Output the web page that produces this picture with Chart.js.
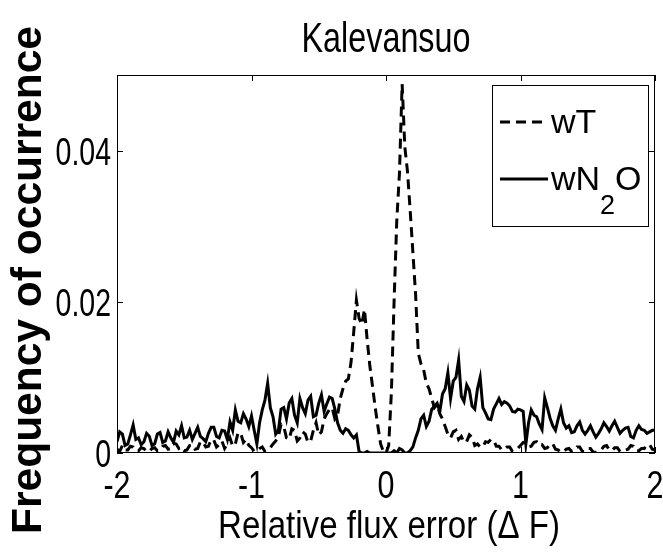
<!DOCTYPE html>
<html>
<head>
<meta charset="utf-8">
<script src="https://cdn.jsdelivr.net/npm/chart.js@4"></script>
<style>
  body { margin: 0; background: #fff; }
  canvas { display: block; }
</style>
</head>
<body>
<canvas id="chart" width="663" height="552"></canvas>
<script>
const SANS = "'Liberation Sans', Arial, Helvetica, sans-serif";

// histogram bins: -2 .. 2, width 0.02
const binStart = -2;
const binWidth = 0.02;

const xTicks = [-2, -1, 0, 1, 2];
const yTicks = [0, 0.02, 0.04];
const yTickLabels = ["0", "0.02", "0.04"];

const wT = [
  0.0005, 0.0002, 0.0010, 0.0004, 0.0004, 0.0009, 0.0008, 0.0003, 0.0003, 0.0007,
  0.0006, 0.0002, 0.0002, 0.0006, 0.0007, 0.0003, 0.0004, 0.0009, 0.0010, 0.0005,
  0.0006, 0.0013, 0.0012, 0.0006, 0.0008, 0.0003, 0.0004, 0.0010, 0.0011, 0.0005,
  0.0006, 0.0015, 0.0014, 0.0008, 0.0009, 0.0018, 0.0017, 0.0008, 0.0011, 0.0016,
  0.0006, 0.0012, 0.0020, 0.0009, 0.0012, 0.0027, 0.0026, 0.0014, 0.0018, 0.0010,
  0.0007, 0.0002, 0.0003, 0.0006, 0.0008, 0.0002, 0.0004, 0.0007, 0.0012, 0.0016,
  0.0022, 0.0038, 0.0035, 0.0020, 0.0018, 0.0032, 0.0030, 0.0016, 0.0020, 0.0028,
  0.0025, 0.0014, 0.0016, 0.0030, 0.0040, 0.0024, 0.0028, 0.0045, 0.0052, 0.0058,
  0.0060, 0.0045, 0.0050, 0.0072, 0.0085, 0.0095, 0.0098, 0.0120, 0.0160, 0.0202,
  0.0178, 0.0170, 0.0190, 0.0150, 0.0115, 0.0088, 0.0060, 0.0035, 0.0012, 0.0002,
  0.0000, 0.0010, 0.0080, 0.0200, 0.0307, 0.0370, 0.0488, 0.0405, 0.0372, 0.0320,
  0.0265, 0.0210, 0.0132, 0.0118, 0.0110, 0.0092, 0.0085, 0.0072, 0.0060, 0.0064,
  0.0052, 0.0045, 0.0035, 0.0025, 0.0020, 0.0028, 0.0030, 0.0018, 0.0022, 0.0014,
  0.0015, 0.0024, 0.0021, 0.0010, 0.0012, 0.0008, 0.0008, 0.0015, 0.0014, 0.0018,
  0.0017, 0.0009, 0.0009, 0.0004, 0.0005, 0.0008, 0.0008, 0.0002, 0.0003, 0.0006,
  0.0010, 0.0014, 0.0013, 0.0008, 0.0009, 0.0014, 0.0015, 0.0010, 0.0011, 0.0006,
  0.0007, 0.0012, 0.0012, 0.0005, 0.0004, 0.0001, 0.0002, 0.0005, 0.0006, 0.0002,
  0.0003, 0.0008, 0.0008, 0.0002, 0.0002, 0.0006, 0.0006, 0.0001, 0.0001, 0.0003,
  0.0004, 0.0009, 0.0010, 0.0004, 0.0003, 0.0007, 0.0007, 0.0002, 0.0002, 0.0004,
  0.0005, 0.0010, 0.0009, 0.0003, 0.0003, 0.0006, 0.0006, 0.0011, 0.0011, 0.0005,
  0.0004
];

const wN2O = [
  0.0015, 0.0028, 0.0025, 0.0010, 0.0012, 0.0024, 0.0037, 0.0018, 0.0020, 0.0011,
  0.0015, 0.0026, 0.0022, 0.0010, 0.0012, 0.0025, 0.0027, 0.0014, 0.0016, 0.0028,
  0.0020, 0.0014, 0.0029, 0.0024, 0.0036, 0.0020, 0.0021, 0.0030, 0.0018, 0.0026,
  0.0034, 0.0022, 0.0019, 0.0015, 0.0026, 0.0034, 0.0034, 0.0022, 0.0020, 0.0030,
  0.0029, 0.0018, 0.0041, 0.0030, 0.0057, 0.0042, 0.0040, 0.0052, 0.0045, 0.0035,
  0.0049, 0.0030, 0.0012, 0.0040, 0.0057, 0.0070, 0.0092, 0.0060, 0.0048, 0.0025,
  0.0030, 0.0058, 0.0060, 0.0045, 0.0066, 0.0072, 0.0050, 0.0040, 0.0072, 0.0060,
  0.0052, 0.0070, 0.0075, 0.0048, 0.0050, 0.0066, 0.0077, 0.0055, 0.0065, 0.0074,
  0.0072, 0.0058, 0.0040, 0.0030, 0.0026, 0.0032, 0.0030, 0.0024, 0.0020, 0.0024,
  0.0002, 0.0000, 0.0000, 0.0002, 0.0000, 0.0000, 0.0000, 0.0000, 0.0000, 0.0000,
  0.0000, 0.0000, 0.0000, 0.0003, 0.0000, 0.0006, 0.0004, 0.0000, 0.0000, 0.0003,
  0.0008, 0.0020, 0.0030, 0.0045, 0.0050, 0.0035, 0.0042, 0.0058, 0.0062, 0.0066,
  0.0055, 0.0078, 0.0085, 0.0106, 0.0072, 0.0095, 0.0100, 0.0123, 0.0075, 0.0068,
  0.0090, 0.0083, 0.0062, 0.0058, 0.0085, 0.0100, 0.0060, 0.0053, 0.0045, 0.0044,
  0.0058, 0.0065, 0.0072, 0.0064, 0.0068, 0.0066, 0.0062, 0.0055, 0.0054, 0.0058,
  0.0057, 0.0055, 0.0012, 0.0040, 0.0057, 0.0050, 0.0048, 0.0038, 0.0031, 0.0073,
  0.0060, 0.0046, 0.0036, 0.0030, 0.0045, 0.0058, 0.0040, 0.0033, 0.0036, 0.0027,
  0.0028, 0.0036, 0.0041, 0.0030, 0.0025, 0.0030, 0.0036, 0.0028, 0.0021, 0.0026,
  0.0032, 0.0040, 0.0035, 0.0029, 0.0036, 0.0042, 0.0034, 0.0026, 0.0030, 0.0033,
  0.0034, 0.0022, 0.0020, 0.0030, 0.0036, 0.0031, 0.0030, 0.0026, 0.0028, 0.0030,
  0.0030
];

const toPoints = arr => arr.map((v, i) => ({ x: binStart + i * binWidth, y: v }));

// text squeezed horizontally, like the stretched matlab export
function squeezedText(ctx, text, x, y, font, align, opts = {}) {
  ctx.save();
  ctx.font = font;
  let sx = opts.sx || 1;
  if (opts.width) sx = opts.width / ctx.measureText(text).width;
  ctx.translate(x, y);
  if (opts.rotate) ctx.rotate(opts.rotate);
  ctx.scale(sx, 1);
  ctx.textAlign = align;
  ctx.textBaseline = "alphabetic";
  ctx.fillStyle = "#000";
  ctx.fillText(text, 0, 0);
  ctx.restore();
}

// box, inward ticks on all four sides, labels and the legend inside
const matlabAxes = {
  id: "matlabAxes",
  afterDraw(chart) {
    const { ctx, chartArea: a, scales } = chart;
    const tl = 6;
    ctx.save();
    ctx.strokeStyle = "#000";
    ctx.lineWidth = 1;
    ctx.strokeRect(a.left + 0.5, a.top + 0.5, a.right - a.left - 1, a.bottom - a.top - 1);
    ctx.beginPath();
    xTicks.forEach(v => {
      const px = Math.round(scales.x.getPixelForValue(v)) + 0.5;
      ctx.moveTo(px, a.bottom); ctx.lineTo(px, a.bottom - tl);
      ctx.moveTo(px, a.top); ctx.lineTo(px, a.top + tl);
    });
    yTicks.forEach(v => {
      const py = Math.round(scales.y.getPixelForValue(v)) + 0.5;
      ctx.moveTo(a.left, py); ctx.lineTo(a.left + tl, py);
      ctx.moveTo(a.right, py); ctx.lineTo(a.right - tl, py);
    });
    ctx.stroke();

    // tick labels
    const tickFont = "39px " + SANS;
    xTicks.forEach(v => {
      squeezedText(ctx, String(v), scales.x.getPixelForValue(v), a.bottom + 45, tickFont, "center", { sx: 0.78 });
    });
    yTicks.forEach((v, i) => {
      squeezedText(ctx, yTickLabels[i], a.left - 6, scales.y.getPixelForValue(v) + 14, tickFont, "right", { sx: 0.73 });
    });

    // titles
    squeezedText(ctx, "Kalevansuo", (a.left + a.right) / 2, 52, "42px " + SANS, "center", { width: 169 });
    squeezedText(ctx, "Relative flux error (\u0394 F)", (a.left + a.right) / 2 + 3, 538, "39px " + SANS, "center", { width: 342 });
    squeezedText(ctx, "Frequency of occurrence", 41, 280, "bold 42px " + SANS, "center", { rotate: -Math.PI / 2, width: 508 });

    // legend
    const box = { x: 492, y: 85, w: 156, h: 141 };
    ctx.fillStyle = "#fff";
    ctx.fillRect(box.x, box.y, box.w, box.h);
    ctx.strokeRect(box.x + 0.5, box.y + 0.5, box.w, box.h);
    const rows = [122, 179];
    ctx.fillStyle = "#000";
    ctx.textBaseline = "alphabetic";
    chart.data.datasets.forEach((ds, i) => {
      const y = rows[i];
      ctx.beginPath();
      ctx.lineWidth = ds.borderWidth;
      ctx.setLineDash(ds.borderDash || []);
      ctx.moveTo(500, y); ctx.lineTo(548, y);
      ctx.stroke();
      ctx.setLineDash([]);
      ctx.font = "34px " + SANS;
      let x = 551;
      const base = y + 11;
      if (ds.label === "wN2O") {
        ctx.fillText("wN", x, base);
        x += ctx.measureText("wN").width;
        ctx.font = "27px " + SANS;
        ctx.fillText("2", x, base + 24);
        x += ctx.measureText("2").width;
        ctx.font = "34px " + SANS;
        ctx.fillText("O", x, base);
      } else {
        ctx.fillText(ds.label, x, base);
      }
    });
    ctx.restore();
  }
};

new Chart(document.getElementById("chart"), {
  type: "line",
  data: {
    datasets: [
      {
        label: "wT",
        data: toPoints(wT),
        borderColor: "#000",
        borderWidth: 3,
        borderDash: [10, 6],
        pointRadius: 0,
        tension: 0
      },
      {
        label: "wN2O",
        data: toPoints(wN2O),
        borderColor: "#000",
        borderWidth: 3,
        pointRadius: 0,
        tension: 0
      }
    ]
  },
  options: {
    responsive: false,
    animation: false,
    devicePixelRatio: 1,
    layout: { padding: { left: 0, right: 8, top: 75, bottom: 0 } },
    plugins: {
      legend: { display: false },
      tooltip: { enabled: false },
      title: { display: false }
    },
    scales: {
      x: {
        type: "linear",
        min: -2,
        max: 2,
        afterBuildTicks: s => { s.ticks = xTicks.map(v => ({ value: v })); },
        afterFit: s => { s.height = 99; },
        grid: { display: false, drawTicks: false },
        border: { display: false },
        ticks: { display: false }
      },
      y: {
        min: 0,
        max: 0.05,
        afterBuildTicks: s => { s.ticks = yTicks.map(v => ({ value: v })); },
        afterFit: s => { s.width = 117; },
        grid: { display: false, drawTicks: false },
        border: { display: false },
        ticks: { display: false }
      }
    }
  },
  plugins: [matlabAxes]
});
</script>
</body>
</html>
